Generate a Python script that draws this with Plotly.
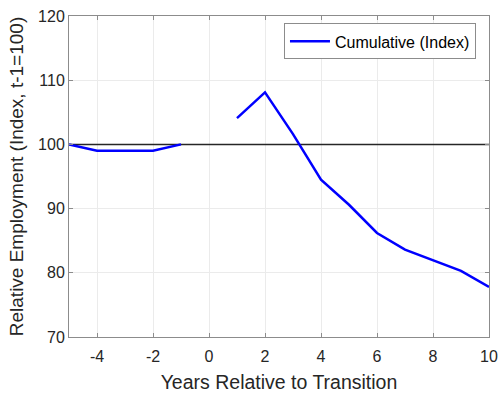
import plotly.graph_objects as go

years = [-5, -4, -3, -2, -1, 0, 1, 2, 3, 4, 5, 6, 7, 8, 9, 10]
cumulative = [100.0, 99.0, 99.0, 99.0, 100.0, None, 104.1, 108.1, 101.6, 94.5, 90.6, 86.2, 83.6, 81.9, 80.3, 77.8]
baseline_x = [-5, 10]
baseline_y = [100, 100]
x_ticks = [-4, -2, 0, 2, 4, 6, 8, 10]
x_labels = ["-4", "-2", "0", "2", "4", "6", "8", "10"]
y_ticks = [70, 80, 90, 100, 110, 120]

FONT = "Liberation Sans, Arial"
fig = go.Figure()
fig.add_trace(go.Scatter(x=baseline_x, y=baseline_y, mode="lines",
                         line=dict(color="#262626", width=1.5), showlegend=False, hoverinfo="skip"))
fig.add_trace(go.Scatter(x=years, y=cumulative, mode="lines", name="Cumulative (Index)",
                         line=dict(color="#0000ff", width=2.5), connectgaps=False))

axis_common = dict(showline=True, linecolor="#8c8c8c", linewidth=1, mirror="ticks",
                   ticks="inside", ticklen=4, tickcolor="#8c8c8c",
                   showgrid=True, gridcolor="#ebebeb", gridwidth=1, zeroline=False,
                   automargin=False, ticklabeloverflow="allow",
                   tickfont=dict(family=FONT, size=16, color="#262626"))

fig.update_layout(
    width=504, height=399,
    margin=dict(l=69, r=15, t=16, b=62),
    paper_bgcolor="white", plot_bgcolor="white",
    xaxis=dict(range=[-5, 10], tickvals=x_ticks, ticktext=x_labels, ticklabelstandoff=5,
               title=dict(text="Years Relative to Transition", standoff=11,
                          font=dict(family=FONT, size=19.5, color="#262626")),
               **axis_common),
    yaxis=dict(range=[70, 120], tickvals=y_ticks,
               title=dict(text="Relative Employment (Index, t-1=100)", standoff=9,
                          font=dict(family=FONT, size=19, color="#262626")),
               **axis_common),
    legend=dict(x=0.969, y=0.977, xanchor="right", yanchor="top",
                bgcolor="white", bordercolor="#8c8c8c", borderwidth=1,
                font=dict(family=FONT, size=16, color="#000000"),
                itemwidth=40, tracegroupgap=0),
)

fig.write_html("out.html", config={"displayModeBar": False},
               post_script="document.body.style.margin='0';document.body.style.overflow='hidden';")
